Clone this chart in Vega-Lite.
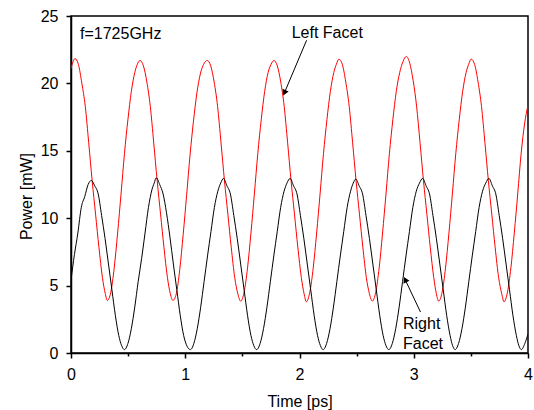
{
 "$schema": "https://vega.github.io/schema/vega-lite/v6.json",
 "width": 457, "height": 337,
 "autosize": {"type": "none"},
 "padding": {"left": 71, "top": 16, "right": 6, "bottom": 57},
 "background": "white",
 "config": {
  "view": {"stroke": "black", "strokeWidth": 1.5},
  "font": "Liberation Sans",
  "axis": {"grid": false, "domainColor": "black", "domainWidth": 1.5, "tickColor": "black", "tickWidth": 1.5,
           "labelFontSize": 16, "labelColor": "black", "labelPadding": 8, "labelFont": "Liberation Sans",
           "titleFontSize": 16, "titleFontWeight": "normal", "titleColor": "black", "titleFont": "Liberation Sans",
           "labelOverlap": false, "labelFlush": false},
  "axisX": {"labelExpr": "datum.value % 1 === 0 ? format(datum.value, 'd') : ''",
            "tickSize": {"condition": {"test": "datum.value % 1 === 0", "value": 5}, "value": 3},
            "titleY": 53, "titleBaseline": "alphabetic"},
  "axisY": {"labelExpr": "datum.value % 5 === 0 ? format(datum.value, 'd') : ''",
            "tickSize": {"condition": {"test": "datum.value % 5 === 0", "value": 5}, "value": 3},
            "titleX": -40, "titleY": 180, "titleBaseline": "alphabetic"}
 },
 "datasets": {
  "curves": [
   {"t":0,"p":21.1,"s":"Left"},{"t":0.035,"p":21.84,"s":"Left"},{"t":0.065,"p":21.4,"s":"Left"},{"t":0.095,"p":20.0,"s":"Left"},{"t":0.125,"p":18.3,"s":"Left"},{"t":0.155,"p":15.6,"s":"Left"},{"t":0.185,"p":12.8,"s":"Left"},{"t":0.215,"p":10.3,"s":"Left"},{"t":0.245,"p":7.8,"s":"Left"},{"t":0.275,"p":5.6,"s":"Left"},{"t":0.3,"p":4.4,"s":"Left"},{"t":0.318,"p":3.9,"s":"Left"},
   {"t":0.348,"p":4.5,"s":"Left"},{"t":0.378,"p":6.3,"s":"Left"},{"t":0.408,"p":8.9,"s":"Left"},{"t":0.438,"p":11.8,"s":"Left"},{"t":0.468,"p":14.8,"s":"Left"},{"t":0.498,"p":17.3,"s":"Left"},{"t":0.528,"p":19.4,"s":"Left"},{"t":0.558,"p":20.8,"s":"Left"},{"t":0.58,"p":21.4,"s":"Left"},{"t":0.604,"p":21.7,"s":"Left"},
   {"t":0.634,"p":21.3,"s":"Left"},{"t":0.664,"p":20.1,"s":"Left"},{"t":0.694,"p":18.3,"s":"Left"},{"t":0.724,"p":15.6,"s":"Left"},{"t":0.754,"p":12.8,"s":"Left"},{"t":0.784,"p":10.3,"s":"Left"},{"t":0.814,"p":7.8,"s":"Left"},{"t":0.844,"p":5.6,"s":"Left"},{"t":0.869,"p":4.4,"s":"Left"},{"t":0.892,"p":3.9,"s":"Left"},
   {"t":0.922,"p":4.4,"s":"Left"},{"t":0.952,"p":6.2,"s":"Left"},{"t":0.982,"p":8.8,"s":"Left"},{"t":1.012,"p":11.7,"s":"Left"},{"t":1.042,"p":14.7,"s":"Left"},{"t":1.072,"p":17.2,"s":"Left"},{"t":1.102,"p":19.3,"s":"Left"},{"t":1.132,"p":20.7,"s":"Left"},{"t":1.16,"p":21.4,"s":"Left"},{"t":1.193,"p":21.7,"s":"Left"},
   {"t":1.223,"p":21.3,"s":"Left"},{"t":1.253,"p":20.1,"s":"Left"},{"t":1.283,"p":18.3,"s":"Left"},{"t":1.313,"p":15.6,"s":"Left"},{"t":1.343,"p":12.8,"s":"Left"},{"t":1.373,"p":10.3,"s":"Left"},{"t":1.403,"p":7.8,"s":"Left"},{"t":1.433,"p":5.6,"s":"Left"},{"t":1.46,"p":4.4,"s":"Left"},{"t":1.485,"p":3.85,"s":"Left"},
   {"t":1.515,"p":4.5,"s":"Left"},{"t":1.545,"p":6.3,"s":"Left"},{"t":1.575,"p":8.9,"s":"Left"},{"t":1.605,"p":11.8,"s":"Left"},{"t":1.635,"p":14.8,"s":"Left"},{"t":1.665,"p":17.3,"s":"Left"},{"t":1.695,"p":19.4,"s":"Left"},{"t":1.725,"p":20.8,"s":"Left"},{"t":1.75,"p":21.4,"s":"Left"},{"t":1.776,"p":21.7,"s":"Left"},
   {"t":1.806,"p":21.3,"s":"Left"},{"t":1.836,"p":20.1,"s":"Left"},{"t":1.866,"p":18.3,"s":"Left"},{"t":1.896,"p":15.6,"s":"Left"},{"t":1.926,"p":12.8,"s":"Left"},{"t":1.956,"p":10.3,"s":"Left"},{"t":1.986,"p":7.8,"s":"Left"},{"t":2.016,"p":5.6,"s":"Left"},{"t":2.04,"p":4.4,"s":"Left"},{"t":2.06,"p":3.8,"s":"Left"},
   {"t":2.09,"p":4.5,"s":"Left"},{"t":2.12,"p":6.3,"s":"Left"},{"t":2.15,"p":8.9,"s":"Left"},{"t":2.18,"p":11.8,"s":"Left"},{"t":2.21,"p":14.8,"s":"Left"},{"t":2.24,"p":17.3,"s":"Left"},{"t":2.27,"p":19.4,"s":"Left"},{"t":2.3,"p":20.8,"s":"Left"},{"t":2.322,"p":21.4,"s":"Left"},{"t":2.345,"p":21.8,"s":"Left"},
   {"t":2.375,"p":21.4,"s":"Left"},{"t":2.405,"p":20.1,"s":"Left"},{"t":2.435,"p":18.3,"s":"Left"},{"t":2.465,"p":15.6,"s":"Left"},{"t":2.495,"p":12.8,"s":"Left"},{"t":2.525,"p":10.3,"s":"Left"},{"t":2.555,"p":7.8,"s":"Left"},{"t":2.585,"p":5.6,"s":"Left"},{"t":2.612,"p":4.4,"s":"Left"},{"t":2.637,"p":3.85,"s":"Left"},
   {"t":2.667,"p":4.5,"s":"Left"},{"t":2.697,"p":6.3,"s":"Left"},{"t":2.727,"p":8.9,"s":"Left"},{"t":2.757,"p":11.8,"s":"Left"},{"t":2.787,"p":14.8,"s":"Left"},{"t":2.817,"p":17.3,"s":"Left"},{"t":2.847,"p":19.4,"s":"Left"},{"t":2.877,"p":20.8,"s":"Left"},{"t":2.905,"p":21.6,"s":"Left"},{"t":2.935,"p":22.0,"s":"Left"},
   {"t":2.965,"p":21.5,"s":"Left"},{"t":2.995,"p":20.2,"s":"Left"},{"t":3.025,"p":18.3,"s":"Left"},{"t":3.055,"p":15.6,"s":"Left"},{"t":3.085,"p":12.8,"s":"Left"},{"t":3.115,"p":10.3,"s":"Left"},{"t":3.145,"p":7.8,"s":"Left"},{"t":3.175,"p":5.6,"s":"Left"},{"t":3.198,"p":4.4,"s":"Left"},{"t":3.218,"p":3.85,"s":"Left"},
   {"t":3.248,"p":4.5,"s":"Left"},{"t":3.278,"p":6.3,"s":"Left"},{"t":3.308,"p":8.9,"s":"Left"},{"t":3.338,"p":11.8,"s":"Left"},{"t":3.368,"p":14.8,"s":"Left"},{"t":3.398,"p":17.3,"s":"Left"},{"t":3.428,"p":19.4,"s":"Left"},{"t":3.458,"p":20.8,"s":"Left"},{"t":3.48,"p":21.4,"s":"Left"},{"t":3.503,"p":21.8,"s":"Left"},
   {"t":3.533,"p":21.4,"s":"Left"},{"t":3.563,"p":20.1,"s":"Left"},{"t":3.593,"p":18.3,"s":"Left"},{"t":3.623,"p":15.6,"s":"Left"},{"t":3.653,"p":12.8,"s":"Left"},{"t":3.683,"p":10.3,"s":"Left"},{"t":3.713,"p":7.8,"s":"Left"},{"t":3.743,"p":5.6,"s":"Left"},{"t":3.77,"p":4.4,"s":"Left"},{"t":3.79,"p":3.8,"s":"Left"},
   {"t":3.82,"p":4.5,"s":"Left"},{"t":3.85,"p":6.3,"s":"Left"},{"t":3.88,"p":8.9,"s":"Left"},{"t":3.91,"p":11.8,"s":"Left"},{"t":3.94,"p":14.8,"s":"Left"},{"t":3.97,"p":17.0,"s":"Left"},{"t":4.0,"p":18.4,"s":"Left"},

   {"t":0,"p":5.4,"s":"Right"},{"t":0.03,"p":7.3,"s":"Right"},{"t":0.06,"p":8.9,"s":"Right"},{"t":0.09,"p":10.8,"s":"Right"},{"t":0.12,"p":11.6,"s":"Right"},{"t":0.15,"p":12.5,"s":"Right"},{"t":0.178,"p":12.8,"s":"Right"},
   {"t":0.208,"p":12.4,"s":"Right"},{"t":0.238,"p":11.8,"s":"Right"},{"t":0.268,"p":10.2,"s":"Right"},{"t":0.298,"p":8.5,"s":"Right"},{"t":0.328,"p":6.6,"s":"Right"},{"t":0.358,"p":4.7,"s":"Right"},{"t":0.388,"p":2.8,"s":"Right"},{"t":0.418,"p":1.3,"s":"Right"},{"t":0.443,"p":0.55,"s":"Right"},{"t":0.468,"p":0.25,"s":"Right"},
   {"t":0.498,"p":0.7,"s":"Right"},{"t":0.528,"p":1.8,"s":"Right"},{"t":0.558,"p":3.4,"s":"Right"},{"t":0.588,"p":5.3,"s":"Right"},{"t":0.618,"p":7.0,"s":"Right"},{"t":0.648,"p":8.9,"s":"Right"},{"t":0.678,"p":10.8,"s":"Right"},{"t":0.708,"p":12.1,"s":"Right"},{"t":0.728,"p":12.6,"s":"Right"},{"t":0.746,"p":13.0,"s":"Right"},
   {"t":0.776,"p":12.5,"s":"Right"},{"t":0.806,"p":11.8,"s":"Right"},{"t":0.836,"p":10.4,"s":"Right"},{"t":0.866,"p":8.6,"s":"Right"},{"t":0.896,"p":6.6,"s":"Right"},{"t":0.926,"p":4.7,"s":"Right"},{"t":0.956,"p":2.8,"s":"Right"},{"t":0.986,"p":1.3,"s":"Right"},{"t":1.016,"p":0.5,"s":"Right"},{"t":1.045,"p":0.25,"s":"Right"},
   {"t":1.075,"p":0.7,"s":"Right"},{"t":1.105,"p":1.8,"s":"Right"},{"t":1.135,"p":3.4,"s":"Right"},{"t":1.165,"p":5.3,"s":"Right"},{"t":1.195,"p":7.2,"s":"Right"},{"t":1.225,"p":9.0,"s":"Right"},{"t":1.255,"p":10.8,"s":"Right"},{"t":1.285,"p":12.0,"s":"Right"},{"t":1.31,"p":12.6,"s":"Right"},{"t":1.335,"p":12.95,"s":"Right"},
   {"t":1.365,"p":12.4,"s":"Right"},{"t":1.395,"p":11.8,"s":"Right"},{"t":1.425,"p":10.2,"s":"Right"},{"t":1.455,"p":8.5,"s":"Right"},{"t":1.485,"p":6.6,"s":"Right"},{"t":1.515,"p":4.7,"s":"Right"},{"t":1.545,"p":2.8,"s":"Right"},{"t":1.575,"p":1.3,"s":"Right"},{"t":1.6,"p":0.55,"s":"Right"},{"t":1.625,"p":0.25,"s":"Right"},
   {"t":1.655,"p":0.7,"s":"Right"},{"t":1.685,"p":1.8,"s":"Right"},{"t":1.715,"p":3.4,"s":"Right"},{"t":1.745,"p":5.3,"s":"Right"},{"t":1.775,"p":7.2,"s":"Right"},{"t":1.805,"p":9.0,"s":"Right"},{"t":1.835,"p":10.8,"s":"Right"},{"t":1.865,"p":12.0,"s":"Right"},{"t":1.89,"p":12.6,"s":"Right"},{"t":1.918,"p":12.95,"s":"Right"},
   {"t":1.948,"p":12.4,"s":"Right"},{"t":1.978,"p":11.8,"s":"Right"},{"t":2.008,"p":10.2,"s":"Right"},{"t":2.038,"p":8.5,"s":"Right"},{"t":2.068,"p":6.6,"s":"Right"},{"t":2.098,"p":4.7,"s":"Right"},{"t":2.128,"p":2.8,"s":"Right"},{"t":2.158,"p":1.3,"s":"Right"},{"t":2.183,"p":0.55,"s":"Right"},{"t":2.207,"p":0.25,"s":"Right"},
   {"t":2.237,"p":0.7,"s":"Right"},{"t":2.267,"p":1.8,"s":"Right"},{"t":2.297,"p":3.4,"s":"Right"},{"t":2.327,"p":5.3,"s":"Right"},{"t":2.357,"p":7.2,"s":"Right"},{"t":2.387,"p":9.0,"s":"Right"},{"t":2.417,"p":10.8,"s":"Right"},{"t":2.447,"p":12.0,"s":"Right"},{"t":2.47,"p":12.6,"s":"Right"},{"t":2.492,"p":12.9,"s":"Right"},
   {"t":2.522,"p":12.4,"s":"Right"},{"t":2.552,"p":11.8,"s":"Right"},{"t":2.582,"p":10.2,"s":"Right"},{"t":2.612,"p":8.5,"s":"Right"},{"t":2.642,"p":6.6,"s":"Right"},{"t":2.672,"p":4.7,"s":"Right"},{"t":2.702,"p":2.8,"s":"Right"},{"t":2.732,"p":1.3,"s":"Right"},{"t":2.757,"p":0.55,"s":"Right"},{"t":2.782,"p":0.25,"s":"Right"},
   {"t":2.812,"p":0.7,"s":"Right"},{"t":2.842,"p":1.8,"s":"Right"},{"t":2.872,"p":3.4,"s":"Right"},{"t":2.902,"p":5.3,"s":"Right"},{"t":2.932,"p":7.2,"s":"Right"},{"t":2.962,"p":9.0,"s":"Right"},{"t":2.992,"p":10.8,"s":"Right"},{"t":3.022,"p":12.0,"s":"Right"},{"t":3.05,"p":12.6,"s":"Right"},{"t":3.078,"p":12.95,"s":"Right"},
   {"t":3.108,"p":12.4,"s":"Right"},{"t":3.138,"p":11.8,"s":"Right"},{"t":3.168,"p":10.2,"s":"Right"},{"t":3.198,"p":8.5,"s":"Right"},{"t":3.228,"p":6.6,"s":"Right"},{"t":3.258,"p":4.7,"s":"Right"},{"t":3.288,"p":2.8,"s":"Right"},{"t":3.318,"p":1.3,"s":"Right"},{"t":3.34,"p":0.55,"s":"Right"},{"t":3.362,"p":0.25,"s":"Right"},
   {"t":3.392,"p":0.7,"s":"Right"},{"t":3.422,"p":1.8,"s":"Right"},{"t":3.452,"p":3.4,"s":"Right"},{"t":3.482,"p":5.3,"s":"Right"},{"t":3.512,"p":7.2,"s":"Right"},{"t":3.542,"p":9.0,"s":"Right"},{"t":3.572,"p":10.8,"s":"Right"},{"t":3.602,"p":12.0,"s":"Right"},{"t":3.63,"p":12.6,"s":"Right"},{"t":3.658,"p":12.95,"s":"Right"},
   {"t":3.688,"p":12.4,"s":"Right"},{"t":3.718,"p":11.8,"s":"Right"},{"t":3.748,"p":10.2,"s":"Right"},{"t":3.778,"p":8.5,"s":"Right"},{"t":3.808,"p":6.6,"s":"Right"},{"t":3.838,"p":4.7,"s":"Right"},{"t":3.868,"p":2.8,"s":"Right"},{"t":3.898,"p":1.3,"s":"Right"},{"t":3.92,"p":0.55,"s":"Right"},{"t":3.942,"p":0.25,"s":"Right"},
   {"t":3.972,"p":0.7,"s":"Right"},{"t":4.0,"p":1.4,"s":"Right"}
  ],
  "arrows": [
   {"id": "L", "t": 2.062, "p": 23.2, "t2": 1.868, "p2": 19.3},
   {"id": "R", "t": 3.059, "p": 3.04, "t2": 2.925, "p2": 5.44}
  ],
  "notes": [
   {"label": "f=1725GHz", "t": 0.079, "p": 23.32, "al": "left"},
   {"label": "Left Facet", "t": 2.243, "p": 23.4, "al": "center"},
   {"label": "Right", "t": 2.906, "p": 1.76, "al": "left"},
   {"label": "Facet", "t": 2.906, "p": 0.3, "al": "left"}
  ]
 },
 "layer": [
  {
   "data": {"name": "curves"},
   "mark": {"type": "line", "strokeWidth": 1, "interpolate": "monotone", "clip": true},
   "encoding": {
    "x": {"field": "t", "type": "quantitative", "title": "Time [ps]", "scale": {"domain": [0, 4], "nice": false},
          "axis": {"values": [0, 0.5, 1, 1.5, 2, 2.5, 3, 3.5, 4]}},
    "y": {"field": "p", "type": "quantitative", "title": "Power [mW]", "scale": {"domain": [0, 25], "nice": false},
          "axis": {"values": [0, 2.5, 5, 7.5, 10, 12.5, 15, 17.5, 20, 22.5, 25]}},
    "color": {"field": "s", "type": "nominal", "scale": {"domain": ["Right", "Left"], "range": ["#000000", "#ff0000"]}, "legend": null},
    "order": {"field": "t", "type": "quantitative"}
   }
  },
  {
   "data": {"name": "arrows"},
   "mark": {"type": "rule", "color": "black", "strokeWidth": 1},
   "encoding": {
    "x": {"field": "t", "type": "quantitative", "title": "Time [ps]"},
    "y": {"field": "p", "type": "quantitative", "title": "Power [mW]"},
    "x2": {"field": "t2"},
    "y2": {"field": "p2"}
   }
  },
  {
   "data": {"name": "arrows"},
   "transform": [{"filter": "datum.id === 'L'"}],
   "mark": {"type": "point", "shape": "triangle-up", "filled": true, "color": "black", "size": 45, "angle": 203, "opacity": 1},
   "encoding": {
    "x": {"field": "t2", "type": "quantitative", "title": "Time [ps]"},
    "y": {"field": "p2", "type": "quantitative", "title": "Power [mW]"}
   }
  },
  {
   "data": {"name": "arrows"},
   "transform": [{"filter": "datum.id === 'R'"}],
   "mark": {"type": "point", "shape": "triangle-up", "filled": true, "color": "black", "size": 45, "angle": 334, "opacity": 1},
   "encoding": {
    "x": {"field": "t2", "type": "quantitative", "title": "Time [ps]"},
    "y": {"field": "p2", "type": "quantitative", "title": "Power [mW]"}
   }
  },
  {
   "data": {"name": "notes"},
   "transform": [{"filter": "datum.al === 'left'"}],
   "mark": {"type": "text", "align": "left", "baseline": "alphabetic", "fontSize": 16, "font": "Liberation Sans", "color": "black"},
   "encoding": {
    "x": {"field": "t", "type": "quantitative", "title": "Time [ps]"},
    "y": {"field": "p", "type": "quantitative", "title": "Power [mW]"},
    "text": {"field": "label"}
   }
  },
  {
   "data": {"name": "notes"},
   "transform": [{"filter": "datum.al === 'center'"}],
   "mark": {"type": "text", "align": "center", "baseline": "alphabetic", "fontSize": 16, "font": "Liberation Sans", "color": "black"},
   "encoding": {
    "x": {"field": "t", "type": "quantitative", "title": "Time [ps]"},
    "y": {"field": "p", "type": "quantitative", "title": "Power [mW]"},
    "text": {"field": "label"}
   }
  }
 ]
}
